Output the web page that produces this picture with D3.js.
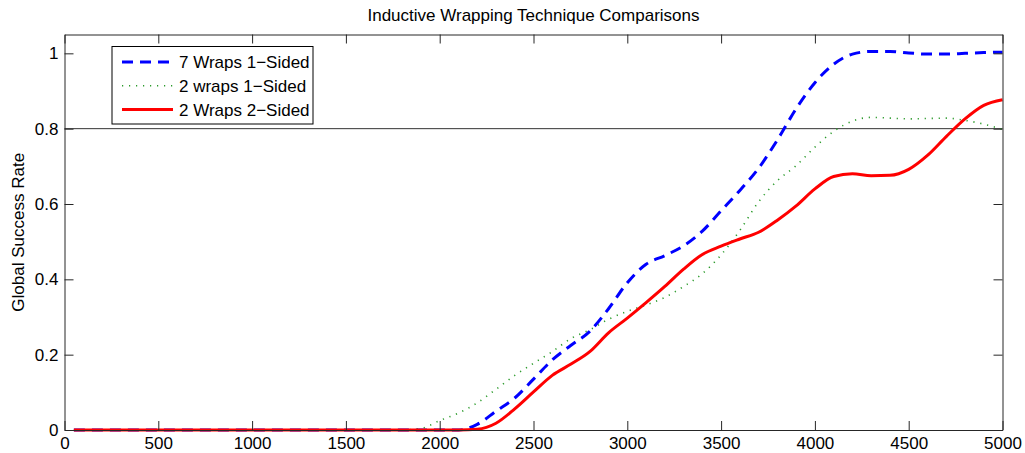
<!DOCTYPE html>
<html>
<head>
<meta charset="utf-8">
<style>
html, body { margin: 0; background: #fff; }
text { font-family: "Liberation Sans", Arial, sans-serif; fill: #000; }
.axis path { stroke: #262626; }
.axis line { stroke: #262626; }
</style>
<script src="https://d3js.org/d3.v7.min.js"></script>
</head>
<body>
<svg id="chart" width="1025" height="453"></svg>
<script>
// x positions (samples) shared by all series
var xs = [50, 500, 1000, 1500, 1800, 1900, 2000, 2100, 2200, 2300, 2400, 2500, 2600, 2700, 2800, 2900,
          3000, 3100, 3200, 3300, 3400, 3500, 3600, 3700, 3800, 3900,
          4000, 4100, 4200, 4300, 4400, 4500, 4600, 4700, 4800, 4900, 5000];

var sevenWraps1 = [0, 0, 0, 0, 0, 0, 0, 0, 0.015, 0.05, 0.085, 0.135, 0.186, 0.225, 0.262, 0.322,
                   0.391, 0.44, 0.463, 0.489, 0.528, 0.582, 0.636, 0.695, 0.77, 0.853,
                   0.922, 0.971, 0.998, 1.005, 1.005, 1.001, 0.998, 0.998, 1.0, 1.002, 1.003];

var twoWraps1 = [0, 0, 0, 0, 0, 0.004, 0.025, 0.045, 0.072, 0.108, 0.145, 0.177, 0.208, 0.243, 0.266, 0.294,
                 0.315, 0.332, 0.352, 0.381, 0.415, 0.465, 0.53, 0.606, 0.662, 0.702,
                 0.751, 0.793, 0.82, 0.83, 0.828, 0.826, 0.827, 0.828, 0.822, 0.812, 0.798];

var twoWraps2 = [0, 0, 0, 0, 0, 0, 0, 0, 0.002, 0.018, 0.056, 0.101, 0.145, 0.175, 0.208, 0.258,
                 0.297, 0.338, 0.381, 0.427, 0.466, 0.488, 0.507, 0.525, 0.557, 0.595,
                 0.64, 0.673, 0.68, 0.675, 0.676, 0.692, 0.729, 0.779, 0.826, 0.862, 0.877];

var seriesNames = ["7 Wraps 1\u2212Sided", "2 wraps 1\u2212Sided", "2 Wraps 2\u2212Sided"];
var xTicks = [0, 500, 1000, 1500, 2000, 2500, 3000, 3500, 4000, 4500, 5000];
var yTicks = [0, 0.2, 0.4, 0.6, 0.8, 1];
var refLevel = 0.8;

var svg = d3.select("#chart");
var plotL = 64.5, plotR = 1002.5, plotT = 34.5, plotB = 430;
var fs = "17px";

var x = d3.scaleLinear().domain([0, 5000]).range([plotL, plotR]);
var y = d3.scaleLinear().domain([0, 1.05]).range([plotB, plotT]);

// title and y label
svg.append("text")
    .attr("x", (plotL + plotR) / 2)
    .attr("y", 21)
    .attr("text-anchor", "middle")
    .style("font-size", fs)
    .text("Inductive Wrapping Technique Comparisons");

svg.append("text")
    .attr("transform", "translate(24," + ((plotT + plotB) / 2) + ") rotate(-90)")
    .attr("text-anchor", "middle")
    .style("font-size", fs)
    .text("Global Success Rate");

// reference line
svg.append("line")
    .attr("x1", plotL).attr("x2", plotR)
    .attr("y1", y(refLevel)).attr("y2", y(refLevel))
    .attr("stroke", "#333").attr("stroke-width", 1);

// series
var styles = [
  {data: sevenWraps1, color: "#0000ff", width: 3, dash: "11,7"},
  {data: twoWraps1, color: "#2a9a2a", width: 1.6, dash: "1.2,5.8"},
  {data: twoWraps2, color: "#ff0000", width: 3, dash: null}
];

var line = d3.line()
    .x(function(d) { return x(d[0]); })
    .y(function(d) { return y(d[1]); })
    .curve(d3.curveMonotoneX);

styles.forEach(function(s) {
  svg.append("path")
      .datum(xs.map(function(v, i) { return [v, s.data[i]]; }))
      .attr("fill", "none")
      .attr("stroke", s.color)
      .attr("stroke-width", s.width)
      .attr("stroke-dasharray", s.dash)
      .attr("d", line);
});

// axes (ticks inside, box around)
var fmt = function(d) { return d; };
svg.append("g").attr("class", "axis")
    .attr("transform", "translate(0," + plotB + ")")
    .call(d3.axisBottom(x).tickValues(xTicks).tickFormat(fmt).tickSizeInner(-9).tickSizeOuter(0).tickPadding(7))
    .call(function(g) { g.selectAll("text").style("font-size", fs); });

svg.append("g").attr("class", "axis")
    .attr("transform", "translate(0," + plotT + ")")
    .call(d3.axisTop(x).tickValues(xTicks).tickFormat("").tickSizeInner(-9).tickSizeOuter(0));

svg.append("g").attr("class", "axis")
    .attr("transform", "translate(" + plotL + ",0)")
    .call(d3.axisLeft(y).tickValues(yTicks).tickFormat(fmt).tickSizeInner(-9).tickSizeOuter(0).tickPadding(6))
    .call(function(g) { g.selectAll("text").style("font-size", fs); });

svg.append("g").attr("class", "axis")
    .attr("transform", "translate(" + plotR + ",0)")
    .call(d3.axisRight(y).tickValues(yTicks).tickFormat("").tickSizeInner(-9).tickSizeOuter(0));

// legend
var leg = svg.append("g");
leg.append("rect")
    .attr("x", 112).attr("y", 46.5).attr("width", 201).attr("height", 77.5)
    .attr("fill", "#fff").attr("stroke", "#000").attr("stroke-width", 1);

styles.forEach(function(s, i) {
  var ly = 62 + i * 23.8;
  leg.append("line")
      .attr("x1", 122).attr("x2", 173)
      .attr("y1", ly).attr("y2", ly)
      .attr("stroke", s.color)
      .attr("stroke-width", s.width)
      .attr("stroke-dasharray", s.dash);
  leg.append("text")
      .attr("x", 179).attr("y", ly)
      .attr("dy", "0.35em")
      .style("font-size", fs)
      .text(seriesNames[i]);
});
</script>
</body>
</html>
